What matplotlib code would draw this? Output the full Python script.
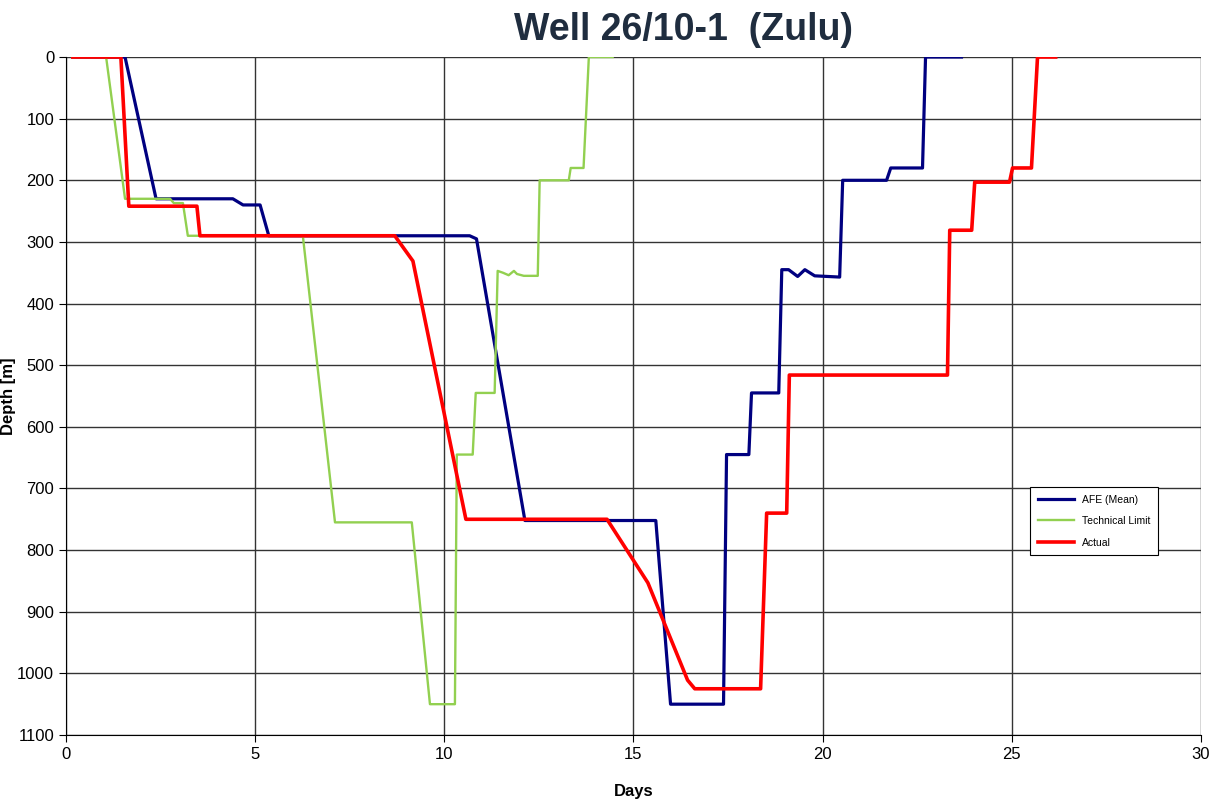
import matplotlib.pyplot as plt
import numpy as np

plt.rcParams['font.family'] = ['Liberation Sans', 'DejaVu Sans']

# AFE (Mean)
afe_days = [0.18, 1.56, 2.38, 4.41, 4.68, 5.13, 5.36, 10.67, 10.85, 12.13, 15.59, 15.98,
            17.38, 17.46, 18.05, 18.12, 18.84, 18.92, 19.1, 19.34, 19.53, 19.79, 20.45,
            20.53, 21.69, 21.8, 22.64, 22.72, 23.67]
afe_depth = [0, 0, 230, 230, 240, 240, 290, 290, 295, 752, 752, 1050,
             1050, 645, 645, 545, 545, 345, 345, 356, 345, 355, 357,
             200, 200, 180, 180, 0, 0]

# Technical Limit
tl_days = [0.16, 1.06, 1.56, 2.75, 2.85, 3.09, 3.22, 6.26, 7.11, 9.14, 9.62, 10.28,
           10.33, 10.75, 10.83, 11.33, 11.41, 11.55, 11.7, 11.84, 11.92, 12.1, 12.47,
           12.52, 13.29, 13.34, 13.68, 13.82, 14.45]
tl_depth = [0, 0, 230, 230, 237, 237, 290, 290, 755, 755, 1050, 1050,
            645, 645, 545, 545, 347, 350, 354, 347, 352, 355, 355,
            200, 200, 180, 180, 0, 0]

# Actual
act_days = [0.18, 1.45, 1.66, 3.46, 3.54, 8.69, 9.17, 10.57, 14.3, 15.38, 16.43, 16.62,
            18.36, 18.52, 19.05, 19.12, 23.3, 23.36, 23.94, 24.02, 24.94, 25.02, 25.52,
            25.68, 26.16]
act_depth = [0, 0, 242, 242, 290, 290, 331, 750, 750, 853, 1011, 1025,
             1025, 740, 740, 516, 516, 281, 281, 203, 203, 180, 180,
             0, 0]

fig = plt.figure(figsize=(12.18, 8.01), dpi=100)
ax = fig.add_axes([0.0542, 0.0824, 0.9318, 0.8464])

ax.plot(afe_days, afe_depth, color='#000080', lw=2.3, label='AFE (Mean)')
ax.plot(tl_days, tl_depth, color='#92D050', lw=1.7, label='Technical Limit')
ax.plot(act_days, act_depth, color='#FF0000', lw=2.6, label='Actual')

ax.set_xlim(0, 30)
ax.set_ylim(1100, 0)
ax.set_xticks(np.arange(0, 31, 5))
ax.set_yticks(np.arange(0, 1101, 100))
ax.grid(True, color='#333333', lw=1)
ax.set_axisbelow(True)
ax.tick_params(labelsize=12, length=5, direction='out')
for s in ['top', 'right']:
    ax.spines[s].set_visible(False)

# title sits a bit right of the axes centre in the original
fig.text(0.561, 0.962, 'Well 26/10-1  (Zulu)', fontsize=27, fontweight='bold',
         color='#1F2D3F', ha='center', va='center')
ax.set_xlabel('Days', fontsize=12, fontweight='bold')
ax.set_ylabel('Depth [m]', fontsize=12, fontweight='bold')
ax.xaxis.set_label_coords(0.5, -0.072)
ax.yaxis.set_label_coords(-0.044, 0.5)

leg = ax.legend(loc='lower left', bbox_to_anchor=(0.845, 0.258), fontsize=7.5,
                fancybox=False, edgecolor='black', framealpha=1, handlelength=3.5,
                borderpad=0.7, labelspacing=1.1)
leg.get_frame().set_linewidth(0.8)

fig.savefig('out.png', dpi=100)
